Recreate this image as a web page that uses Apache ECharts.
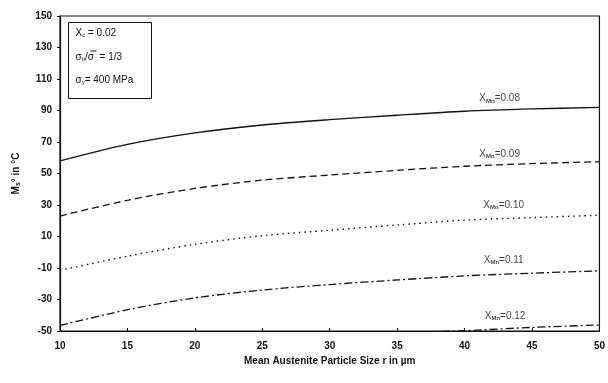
<!DOCTYPE html>
<html>
<head>
<meta charset="utf-8">
<script src="https://cdn.jsdelivr.net/npm/echarts@6/dist/echarts.min.js"></script>
<style>
  html, body { margin: 0; padding: 0; background: #fff; }
  #chart { width: 608px; height: 383px; }
</style>
</head>
<body>
<div id="chart"></div>
<script>
// particle size r (µm)
const sizes = [10, 15, 20, 25, 30, 35, 40, 45, 50];
// Ms° (°C) for each Xmn
const ms008 = [58, 68.5, 75.8, 80.8, 84.2, 87, 89.5, 91, 92];
const ms009 = [23, 33, 40.5, 45.8, 49, 52, 54.6, 56.3, 57.5];
const ms010 = [-11.5, -2.5, 5, 10.5, 14, 17.3, 20.4, 22, 23.5];
const ms011 = [-46.5, -36.5, -29, -24, -20.5, -17.6, -15, -13.3, -11.8];
const ms012 = [null, null, null, null, -52, -51, -49.8, -47.7, -46.2];

const curveNames = ['0.08', '0.09', '0.10', '0.11', '0.12'];
const labelX = [42.6, 42.6, 42.9, 42.9, 43.0];
const labelY = [97.5, 62.5, 30, -5, -40.5];

const xTicks = { min: 10, max: 50, step: 5 };
const yTicks = { min: -50, max: 150, step: 20 };

const font = 'Liberation Sans, Arial, sans-serif';

function lineSeries(name, values, type, width) {
  return {
    name: name,
    type: 'line',
    data: sizes.map((s, i) => [s, values[i]]),
    symbol: 'none',
    smooth: 0.3,
    connectNulls: false,
    clip: true,
    lineStyle: { color: '#111', width: width, type: type },
    z: 3
  };
}

const chart = echarts.init(document.getElementById('chart'));
chart.setOption({
  backgroundColor: '#fff',
  animation: false,
  grid: { left: 60, right: 5, top: 16, bottom: 52, show: true, borderColor: '#111', borderWidth: 1.2, backgroundColor: 'transparent' },
  xAxis: {
    type: 'value',
    min: xTicks.min, max: xTicks.max, interval: xTicks.step,
    name: 'Mean Austenite Particle Size r in µm',
    nameLocation: 'middle', nameGap: 25,
    nameTextStyle: { fontFamily: font, fontSize: 10, fontWeight: 'bold', color: '#111' },
    axisLine: { onZero: false, lineStyle: { color: '#111', width: 1.2 } },
    axisTick: { inside: true, length: 3, lineStyle: { color: '#111' } },
    axisLabel: { fontFamily: font, fontSize: 10, fontWeight: 'bold', color: '#111', margin: 10 },
    splitLine: { show: false }
  },
  yAxis: {
    type: 'value',
    min: yTicks.min, max: yTicks.max, interval: yTicks.step,
    name: '{b|M}{s|s}{b|° in °C}',
    nameLocation: 'middle', nameGap: 38, nameRotate: 90,
    nameTextStyle: {
      rich: {
        b: { fontFamily: font, fontSize: 10, fontWeight: 'bold', color: '#111' },
        s: { fontFamily: font, fontSize: 7, fontWeight: 'bold', color: '#111', verticalAlign: 'bottom', padding: [4, 0, 0, 0] }
      }
    },
    axisLine: { onZero: false, lineStyle: { color: '#111', width: 1.2 } },
    axisTick: { length: 3, lineStyle: { color: '#111' } },
    axisLabel: { fontFamily: font, fontSize: 10, fontWeight: 'bold', color: '#111', margin: 8 },
    splitLine: { show: false }
  },
  series: [
    lineSeries('0.08', ms008, 'solid', 1.4),
    lineSeries('0.09', ms009, [7, 4], 1.3),
    lineSeries('0.10', ms010, [1.5, 4], 1.4),
    lineSeries('0.11', ms011, [8, 3, 2, 3], 1.3),
    lineSeries('0.12', ms012, [8, 3, 2, 3], 1.3),
    {
      name: 'labels',
      type: 'scatter',
      symbolSize: 0,
      data: curveNames.map((n, i) => ({ value: [labelX[i], labelY[i]], name: n })),
      label: {
        show: true,
        position: 'inside',
        formatter: p => '{x|X}{s|Mn}{x|=' + p.name + '}',
        rich: {
          x: { fontFamily: font, fontSize: 10, color: '#111' },
          s: { fontFamily: font, fontSize: 6, fontWeight: 'bold', color: '#111', verticalAlign: 'bottom', padding: [5, 0, 0, 0] }
        }
      },
      z: 4
    }
  ],
  graphic: [
    {
      type: 'group', left: 68, top: 22,
      children: [
        { type: 'rect', shape: { x: 0, y: 0, width: 83, height: 76 }, style: { fill: '#fff', stroke: '#111', lineWidth: 1 } },
        { type: 'text', x: 7, y: 5, style: { text: '{a|X}{s|c}{a| = 0.02}', rich: {
          a: { fontFamily: font, fontSize: 10, fill: '#111' },
          s: { fontFamily: font, fontSize: 6, fill: '#111', padding: [5, 0, 0, 0] } } } },
        { type: 'text', x: 7, y: 29, style: { text: '{a|σ}{s|h}{a|/σ  = 1/3}', rich: {
          a: { fontFamily: font, fontSize: 10, fill: '#111' },
          s: { fontFamily: font, fontSize: 6, fill: '#111', padding: [5, 0, 0, 0] } } } },
        { type: 'line', shape: { x1: 22, y1: 28.5, x2: 28, y2: 28.5 }, style: { stroke: '#111', lineWidth: 1 } },
        { type: 'text', x: 7, y: 52, style: { text: '{a|σ}{s|y}{a|= 400 MPa}', rich: {
          a: { fontFamily: font, fontSize: 10, fill: '#111' },
          s: { fontFamily: font, fontSize: 6, fill: '#111', padding: [5, 0, 0, 0] } } } }
      ]
    }
  ]
});
</script>
</body>
</html>
